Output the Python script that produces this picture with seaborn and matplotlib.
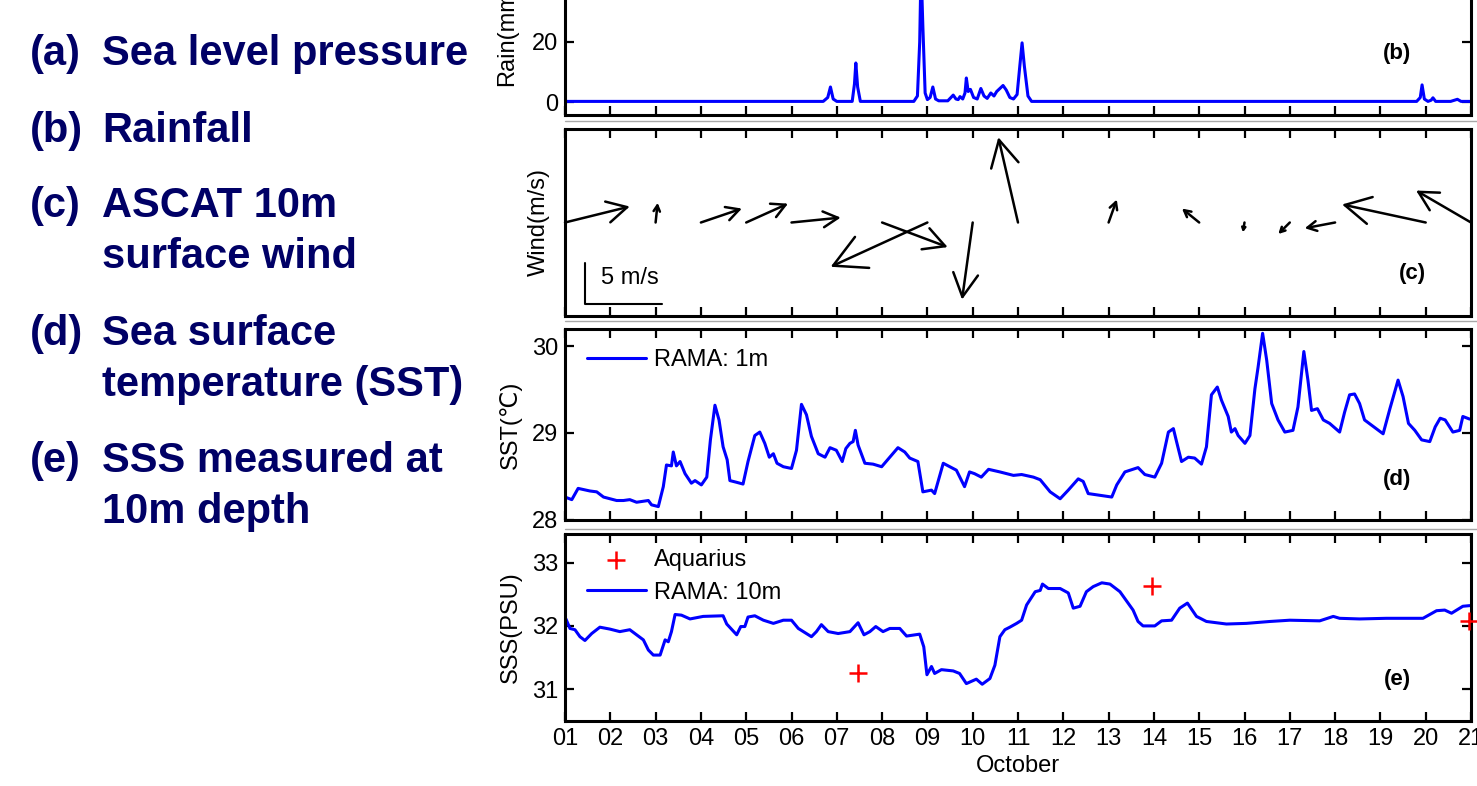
import matplotlib
matplotlib.use("Agg")
import matplotlib.pyplot as plt
from matplotlib.lines import Line2D
import numpy as np
import seaborn as sns


# ---- rainfall (b) ----
RAIN_DAY = [1.0, 6.70, 6.80, 6.86, 6.92, 7.00, 7.34, 7.39, 7.42, 7.46, 7.52,
            8.70, 8.78, 8.83, 8.86, 8.90, 8.95, 9.00, 9.06, 9.12, 9.18, 9.25,
            9.45, 9.52, 9.57, 9.63, 9.68, 9.72, 9.78, 9.83, 9.86, 9.90, 9.95,
            10.02, 10.10, 10.18, 10.25, 10.32, 10.40, 10.47, 10.53, 10.60,
            10.67, 10.74, 10.82, 10.90, 10.98, 11.04, 11.09, 11.14, 11.22,
            11.30, 19.80, 19.88, 19.92, 19.97, 20.05, 20.12, 20.16, 20.22,
            20.55, 20.70, 20.78, 21.0]
RAIN_MM = [0.2, 0.2, 1.5, 5.0, 1.0, 0.2, 0.2, 6.0, 13.0, 5.0, 0.2,
           0.2, 2.0, 20.0, 45.0, 25.0, 3.0, 0.8, 1.5, 5.0, 1.0, 0.4,
           0.4, 1.5, 2.3, 1.0, 0.8, 1.8, 1.0, 3.0, 8.0, 3.5, 4.2,
           1.5, 1.0, 4.5, 2.0, 1.2, 3.0, 2.0, 3.5, 4.5,
           5.5, 4.0, 1.5, 1.0, 2.5, 12.0, 19.7, 12.0, 2.0,
           0.2, 0.2, 1.5, 5.7, 1.0, 0.2, 0.6, 1.4, 0.2,
           0.2, 0.9, 0.2, 0.2]

# ---- ASCAT wind (c), m/s ----
WIND_DAY = [1, 3, 4, 5, 6, 8, 9, 10, 11, 13, 15, 16, 17, 18, 20, 21]
WIND_U = [7.9, 0.25, 5.0, 5.1, 6.0, 8.0, -11.8, -1.3, -2.4, 1.0, -2.1, -0.2,
          -1.4, -3.7, -10.2, -6.7]
WIND_V = [1.95, 2.4, 1.7, 2.3, 0.6, -3.0, -5.4, -9.4, 10.4, 2.8, 1.7, -1.2,
          -1.4, -0.7, 2.2, 3.9]

# ---- SST (d) ----
SST_DAY = [1.00, 1.15, 1.29, 1.55, 1.70, 1.85, 2.14, 2.29, 2.43, 2.58, 2.84,
           2.91, 3.06, 3.17, 3.24, 3.35, 3.39, 3.46, 3.54, 3.65, 3.79, 3.87,
           4.01, 4.13, 4.21, 4.31, 4.40, 4.49, 4.58, 4.64, 4.79, 4.93, 5.04,
           5.19, 5.30, 5.41, 5.51, 5.60, 5.68, 5.82, 6.00, 6.11, 6.22, 6.33,
           6.44, 6.59, 6.74, 6.85, 6.99, 7.12, 7.20, 7.29, 7.36, 7.41, 7.47,
           7.62, 7.80, 7.99, 8.17, 8.35, 8.50, 8.61, 8.79, 8.90, 9.09, 9.16,
           9.35, 9.64, 9.82, 9.93, 10.04, 10.19, 10.35, 10.60, 10.90, 11.08,
           11.34, 11.49, 11.71, 11.93, 12.11, 12.33, 12.44, 12.55, 12.81,
           13.07, 13.18, 13.36, 13.65, 13.80, 14.02, 14.17, 14.32, 14.43,
           14.50, 14.61, 14.76, 14.90, 15.05, 15.16, 15.27, 15.40, 15.49,
           15.64, 15.71, 15.79, 15.86, 16.01, 16.12, 16.23, 16.30, 16.40,
           16.49, 16.60, 16.74, 16.89, 17.07, 17.18, 17.31, 17.40, 17.48,
           17.61, 17.74, 17.88, 18.10, 18.21, 18.32, 18.43, 18.54, 18.65,
           18.88, 19.06, 19.21, 19.39, 19.50, 19.62, 19.76, 19.91, 20.09,
           20.21, 20.32, 20.43, 20.60, 20.75, 20.82, 20.97]
SST_C = [28.26, 28.23, 28.36, 28.33, 28.32, 28.26, 28.22, 28.22, 28.23, 28.20,
         28.22, 28.17, 28.15, 28.38, 28.63, 28.62, 28.78, 28.62, 28.67, 28.53,
         28.42, 28.45, 28.40, 28.49, 28.92, 29.32, 29.15, 28.84, 28.69, 28.45,
         28.43, 28.41, 28.67, 28.97, 29.01, 28.88, 28.72, 28.76, 28.65, 28.61,
         28.59, 28.80, 29.33, 29.21, 28.96, 28.76, 28.72, 28.83, 28.80, 28.67,
         28.82, 28.88, 28.90, 29.03, 28.86, 28.65, 28.64, 28.61, 28.72, 28.83,
         28.78, 28.71, 28.67, 28.32, 28.34, 28.30, 28.65, 28.57, 28.38, 28.55,
         28.53, 28.49, 28.58, 28.55, 28.51, 28.52, 28.49, 28.46, 28.32, 28.24,
         28.34, 28.47, 28.44, 28.30, 28.28, 28.26, 28.40, 28.55, 28.60, 28.52,
         28.49, 28.65, 29.01, 29.05, 28.90, 28.67, 28.72, 28.71, 28.64, 28.84,
         29.44, 29.53, 29.38, 29.19, 29.01, 29.05, 28.97, 28.88, 28.97, 29.51,
         29.76, 30.15, 29.84, 29.34, 29.15, 29.01, 29.03, 29.30, 29.94, 29.61,
         29.26, 29.28, 29.15, 29.11, 29.01, 29.24, 29.44, 29.45, 29.34, 29.15,
         29.06, 28.99, 29.28, 29.61, 29.42, 29.11, 29.03, 28.92, 28.90, 29.07,
         29.17, 29.15, 29.01, 29.03, 29.19, 29.16]

# ---- SSS (e) ----
SSS_DAY = [1.02, 1.11, 1.22, 1.33, 1.44, 1.59, 1.77, 1.99, 2.21, 2.43, 2.58,
           2.73, 2.84, 2.95, 3.10, 3.21, 3.28, 3.35, 3.43, 3.57, 3.76, 4.05,
           4.49, 4.57, 4.79, 4.88, 4.97, 5.04, 5.19, 5.38, 5.60, 5.82, 6.00,
           6.15, 6.44, 6.55, 6.66, 6.81, 7.03, 7.29, 7.47, 7.60, 7.73, 7.86,
           8.02, 8.17, 8.39, 8.54, 8.83, 8.92, 8.99, 9.09, 9.16, 9.31, 9.57,
           9.71, 9.86, 10.08, 10.21, 10.38, 10.49, 10.60, 10.71, 10.82, 10.97,
           11.08, 11.19, 11.38, 11.49, 11.54, 11.67, 11.93, 12.11, 12.22,
           12.37, 12.51, 12.66, 12.85, 13.03, 13.25, 13.43, 13.54, 13.65,
           13.76, 14.02, 14.17, 14.39, 14.57, 14.74, 14.94, 15.16, 15.60,
           16.04, 16.56, 17.00, 17.66, 17.96, 18.10, 18.54, 19.13, 19.50,
           19.94, 20.24, 20.42, 20.57, 20.82, 20.97]
SSS_PSU = [32.11, 31.96, 31.94, 31.83, 31.77, 31.88, 31.98, 31.95, 31.91,
           31.94, 31.86, 31.78, 31.62, 31.54, 31.54, 31.78, 31.75, 31.91,
           32.18, 32.17, 32.11, 32.15, 32.16, 32.03, 31.86, 31.99, 31.99,
           32.14, 32.16, 32.09, 32.04, 32.09, 32.09, 31.96, 31.83, 31.91,
           32.02, 31.91, 31.88, 31.91, 32.05, 31.86, 31.91, 31.99, 31.91,
           31.96, 31.96, 31.84, 31.87, 31.67, 31.23, 31.36, 31.25, 31.31,
           31.29, 31.25, 31.09, 31.16, 31.08, 31.17, 31.38, 31.83, 31.94,
           31.98, 32.04, 32.09, 32.33, 32.54, 32.56, 32.66, 32.59, 32.59,
           32.52, 32.28, 32.31, 32.54, 32.62, 32.68, 32.66, 32.54, 32.36,
           32.25, 32.07, 32.00, 32.00, 32.08, 32.09, 32.28, 32.36, 32.15,
           32.07, 32.03, 32.04, 32.07, 32.09, 32.08, 32.15, 32.12, 32.11,
           32.12, 32.12, 32.12, 32.24, 32.25, 32.20, 32.31, 32.32]
AQUARIUS_DAY = [7.47, 13.95, 20.96]
AQUARIUS_PSU = [31.25, 32.63, 32.08]

DAY_TICKS = list(range(1, 22))
DAY_LABELS = [f"{d:02d}" for d in DAY_TICKS]

LEFT_ITEMS = [
    ("(a)", "Sea level pressure", 65),
    ("(b)", "Rainfall", 142),
    ("(c)", "ASCAT 10m", 217),
    ("", "surface wind", 268),
    ("(d)", "Sea surface", 345),
    ("", "temperature (SST)", 396),
    ("(e)", "SSS measured at", 472),
    ("", "10m depth", 523),
]

W, H = 1477, 786
PX_PER_MS = 8.2
NAVY = "#000066"
LINE_W = 2.2


def px_rect(top, bottom, left=565, right=1471):
    return [left / W, 1 - bottom / H, (right - left) / W, (bottom - top) / H]


def style_axis(ax, yticks, show_x_labels=False):
    ax.set_xlim(1, 21)
    ax.set_xticks(DAY_TICKS)
    ax.set_yticks(yticks)
    ax.tick_params(direction="in", top=True, right=True, length=6.3, width=1.6,
                   labelsize=17, colors="black")
    ax.tick_params(axis="y", pad=5)
    ax.tick_params(axis="x", pad=5, labelbottom=show_x_labels)
    if show_x_labels:
        ax.set_xticklabels(DAY_LABELS)
    for spine in ax.spines.values():
        spine.set_linewidth(2.2)
        spine.set_color("black")
        spine.set_visible(True)
    ax.set_xlabel("")


sns.set_theme(style="ticks")
plt.rcParams["font.family"] = ["Liberation Sans", "DejaVu Sans"]
plt.rcParams["text.color"] = "black"
plt.rcParams["axes.labelcolor"] = "black"

fig = plt.figure(figsize=(W / 100, H / 100), dpi=100)

ax_b = fig.add_axes(px_rect(-73, 115))
ax_c = fig.add_axes(px_rect(129, 316))
ax_d = fig.add_axes(px_rect(329, 520))
ax_e = fig.add_axes(px_rect(534, 721))

# (b) rainfall
sns.lineplot(x=RAIN_DAY, y=RAIN_MM, ax=ax_b, color="blue", linewidth=LINE_W,
             estimator=None, sort=False, legend=False)
ax_b.set_ylim(-4.33, 58.3)
style_axis(ax_b, [0, 20])
ax_b.set_ylabel("Rain(mm)", fontsize=17)
ax_b.yaxis.set_label_coords(-0.052, 0.431)

# (c) wind sticks
ax_c.set_ylim(-11.4, 11.4)
style_axis(ax_c, [])
for day, u, v in zip(WIND_DAY, WIND_U, WIND_V):
    length = PX_PER_MS * np.hypot(u, v)
    hl = 0.3 * length / 1.389
    hw = 0.16 * length / 1.389
    ax_c.annotate("", xy=(day, 0), xytext=(u * PX_PER_MS, v * PX_PER_MS),
                  textcoords="offset pixels", annotation_clip=False,
                  arrowprops=dict(arrowstyle=f"<-,head_length={hl:.2f},head_width={hw:.2f}",
                                  color="black", lw=1.8, shrinkA=0, shrinkB=0,
                                  mutation_scale=1))
ax_c.plot([1.44, 1.44, 3.14], [-4.94, -9.94, -9.94], color="black", lw=1.5)
ax_c.text(1.8, -6.8, "5 m/s", fontsize=17, va="center", ha="left")
ax_c.text(19.7, -6.2, "(c)", fontsize=16, fontweight="bold", ha="center", va="center")
ax_c.set_ylabel("Wind(m/s)", fontsize=17)
ax_c.yaxis.set_label_coords(-0.0166, 0.5)

# (d) SST
sns.lineplot(x=SST_DAY, y=SST_C, ax=ax_d, color="blue", linewidth=LINE_W,
             estimator=None, sort=False, label="RAMA: 1m")
ax_d.set_ylim(27.995, 30.2)
style_axis(ax_d, [28, 29, 30])
ax_d.set_ylabel("SST(℃)", fontsize=17)
ax_d.yaxis.set_label_coords(-0.0475, 0.5)
ax_d.legend(frameon=False, loc="upper left", bbox_to_anchor=(0.024, 0.895),
            borderpad=0, borderaxespad=0, handlelength=2.5, handletextpad=0.35,
            fontsize=17)

# (e) SSS
sns.lineplot(x=SSS_DAY, y=SSS_PSU, ax=ax_e, color="blue", linewidth=LINE_W,
             estimator=None, sort=False, label="RAMA: 10m")
sns.scatterplot(x=AQUARIUS_DAY, y=AQUARIUS_PSU, ax=ax_e, marker="+", s=180,
                color="red", linewidth=1.8, label="Aquarius", clip_on=False,
                zorder=5)
ax_e.set_ylim(30.5, 33.45)
style_axis(ax_e, [31, 32, 33], show_x_labels=True)
ax_e.set_ylabel("SSS(PSU)", fontsize=17)
ax_e.yaxis.set_label_coords(-0.0475, 0.5)
ax_e.set_xlabel("October", fontsize=17, labelpad=4)
handles, labels = ax_e.get_legend_handles_labels()
order = [labels.index("Aquarius"), labels.index("RAMA: 10m")]
ax_e.legend([handles[i] for i in order], [labels[i] for i in order],
            frameon=False, loc="upper left", bbox_to_anchor=(0.024, 0.92),
            borderpad=0, borderaxespad=0, handlelength=2.5, handletextpad=0.35,
            labelspacing=0.45, fontsize=17, scatterpoints=1)

# panel tags
for ax, tag, y_px, top, bottom in [(ax_b, "(b)", 54, -73, 115),
                                   (ax_d, "(d)", 479, 329, 520),
                                   (ax_e, "(e)", 680, 534, 721)]:
    ax.text((1397 - 565) / 906, (bottom - y_px) / (bottom - top), tag,
            transform=ax.transAxes, fontsize=16, fontweight="bold",
            ha="center", va="center")

# thin grey seams between the stacked panels
for y_px in [121, 321, 529]:
    fig.add_artist(Line2D([565 / W, 1.0], [1 - y_px / H, 1 - y_px / H],
                          transform=fig.transFigure, color="#a8a8a8", lw=1.0))

# left-hand caption list
for tag, text, base_px in LEFT_ITEMS:
    y = 1 - base_px / H
    if tag:
        fig.text(30 / W, y, tag, fontsize=30, fontweight="bold", color=NAVY,
                 va="baseline", ha="left")
    fig.text(102 / W, y, text, fontsize=30, fontweight="bold", color=NAVY,
             va="baseline", ha="left")

fig.savefig("out.png", dpi=100)
